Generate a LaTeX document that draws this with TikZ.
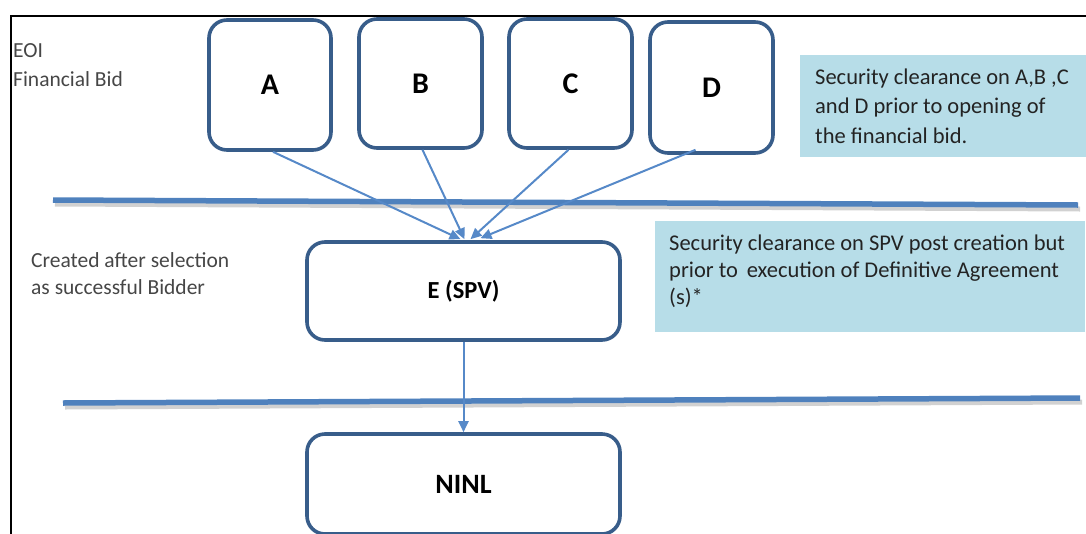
\documentclass[tikz,border=0pt]{standalone}
\usepackage{fontspec}
\setmainfont{Carlito}
\usetikzlibrary{arrows.meta,calc}

\definecolor{boxedge}{RGB}{56,93,138}
\definecolor{accentblue}{RGB}{79,129,189}
\definecolor{feedblue}{RGB}{86,137,200}
\definecolor{notefill}{RGB}{183,221,232}
\definecolor{labelgray}{RGB}{70,70,70}
\definecolor{notetext}{RGB}{35,35,35}

\begin{document}
\begin{tikzpicture}[x=1pt,y=-1pt,
  party/.style={draw=boxedge, line width=3.6pt, rounded corners=18pt, fill=white,
    inner sep=0pt, font=\fontsize{30pt}{30pt}\selectfont\bfseries},
  entity/.style={party, font=\fontsize{24.5pt}{30pt}\selectfont\bfseries},
  notebox/.style={fill=notefill, draw=none, inner sep=0pt, anchor=north west},
  notetxt/.style={anchor=base west, inner sep=0pt, text=notetext,
    font=\fontsize{22.5pt}{27pt}\selectfont},
  sidetxt/.style={anchor=base west, inner sep=0pt, text=labelgray,
    font=\fontsize{21.5pt}{27pt}\selectfont},
  feed/.style={draw=feedblue, line width=2pt,
    -{Triangle[length=11pt,width=10pt]}},
  divider/.style={draw=accentblue, line width=5.5pt},
  dividershade/.style={draw=black, line width=5pt, opacity=0.18}
]
\useasboundingbox (0,0) rectangle (1086,533);

% frame
\draw[line width=1.6pt] (1090,16) -- (11,16) -- (11,540);

% phase dividers with a soft shadow
\draw[dividershade] (55,204) -- (1080,209);
\draw[divider] (53,200) -- (1078,205);
\draw[dividershade] (65,407) -- (1082,402);
\draw[divider] (63,403) -- (1080,398);

% side labels
\node[sidetxt] (eoi) at (13,57) {EOI};
\node[sidetxt] (fin) at (13,86) {Financial Bid};
\node[sidetxt] (cr1) at (31,267) {Created after selection};
\node[sidetxt] (cr2) at (31,294) {as successful Bidder};

% bidders
\node[party, minimum width=122pt, minimum height=130pt] (A) at (270,85) {A};
\node[party, minimum width=123pt, minimum height=129pt] (B) at (420.5,83.5) {B};
\node[party, minimum width=123pt, minimum height=129pt] (C) at (570.5,83.5) {C};
\node[party, minimum width=123pt, minimum height=131pt] (D) at (711.5,87.5) {D};

% special purpose vehicle and parent
\node[entity, minimum width=313pt, minimum height=98pt] (E) at (463.5,291) {E (SPV)};
\node[entity, font=\fontsize{28pt}{30pt}\selectfont\bfseries,
  minimum width=313pt, minimum height=100pt] (N) at (463.5,484) {NINL};

% notes
\node[notebox, minimum width=286pt, minimum height=102pt] (noteA) at (800,55) {};
\node[notetxt] (na1) at (815,84) {Security clearance on A,B ,C};
\node[notetxt] (na2) at (815,113.5) {and D prior to opening of};
\node[notetxt] (na3) at (815,143) {the financial bid.};

\node[notebox, minimum width=430pt, minimum height=111pt] (noteE) at (655,221) {};
\node[notetxt] (ne1) at (669,250) {Security clearance on SPV post creation but};
\node[notetxt] (ne2) at (669,277) {prior to\, execution of Definitive Agreement};
\node[notetxt] (ne3) at (669,304) {(s)*};

% flows
\draw[feed] ($(A.south)+(3,0)$) -- ($(E.north)+(-3,-1)$);
\draw[feed] ($(B.south)+(2,0)$) -- ($(E.north)+(1,-1)$);
\draw[feed] ($(C.south)+(-2,0)$) -- ($(E.north)+(7,-1)$);
\draw[feed] ($(D.south)+(-16,-5)$) -- ($(E.north)+(17,-2)$);
\draw[feed] (E.south) -- (N.north);
\end{tikzpicture}
\end{document}
